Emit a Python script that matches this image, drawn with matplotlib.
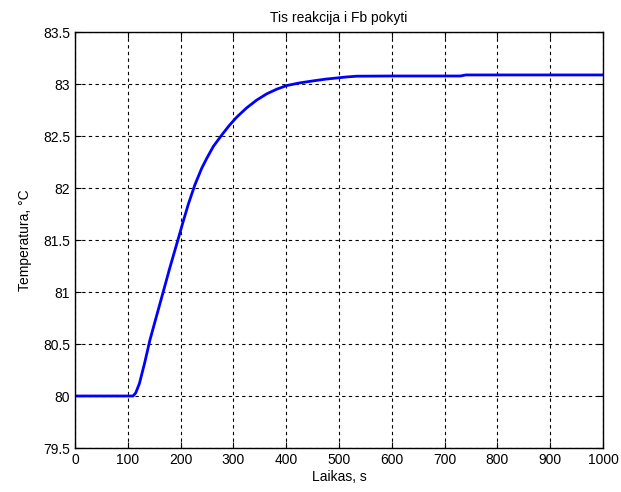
import numpy as np
import matplotlib.pyplot as plt

plt.rcParams['font.family'] = ['Liberation Sans', 'DejaVu Sans']

# readings
laikas = [0, 50, 100, 110, 115, 122, 132, 142, 155, 167, 180, 196, 205, 215,
          227, 240, 249, 262, 278, 292, 306, 325, 344, 363, 382, 401, 425,
          451, 475, 496, 515, 533, 600, 730, 740, 800, 900, 1000]
temperatura = [80.0, 80.0, 80.0, 80.0, 80.03, 80.12, 80.32, 80.54, 80.78,
               81.0, 81.24, 81.52, 81.68, 81.85, 82.03, 82.19, 82.28, 82.40,
               82.51, 82.60, 82.68, 82.77, 82.845, 82.905, 82.95, 82.985, 83.01,
               83.03, 83.047, 83.058, 83.068, 83.075, 83.077, 83.077, 83.087,
               83.087, 83.087, 83.087]

xticks = np.arange(0, 1001, 100)
yticks = np.arange(79.5, 83.51, 0.5)
ytick_labels = ['79.5', '80', '80.5', '81', '81.5', '82', '82.5', '83', '83.5']

fig = plt.figure(figsize=(6.21, 4.92), dpi=100)
ax = fig.add_axes([75 / 621, 44 / 492, 528 / 621, 416 / 492])

ax.plot(laikas, temperatura, color='#0000ff', linewidth=2)

ax.set_xlim(0, 1000)
ax.set_ylim(79.5, 83.5)
ax.set_xticks(xticks)
ax.set_yticks(yticks)
ax.set_yticklabels(ytick_labels)
ax.tick_params(direction='in', top=True, right=True, labelsize=10, length=4)
ax.grid(True, color='black', linestyle=(0, (3, 3)), linewidth=0.8)
for s in ax.spines.values():
    s.set_linewidth(1)

ax.set_title('Tis reakcija i Fb pokyti', fontsize=10, pad=7)
ax.set_xlabel('Laikas, s', fontsize=10, labelpad=2)
ax.set_ylabel('Temperatura, \u00b0C', fontsize=10, labelpad=8)

fig.savefig('out.png', dpi=100)
